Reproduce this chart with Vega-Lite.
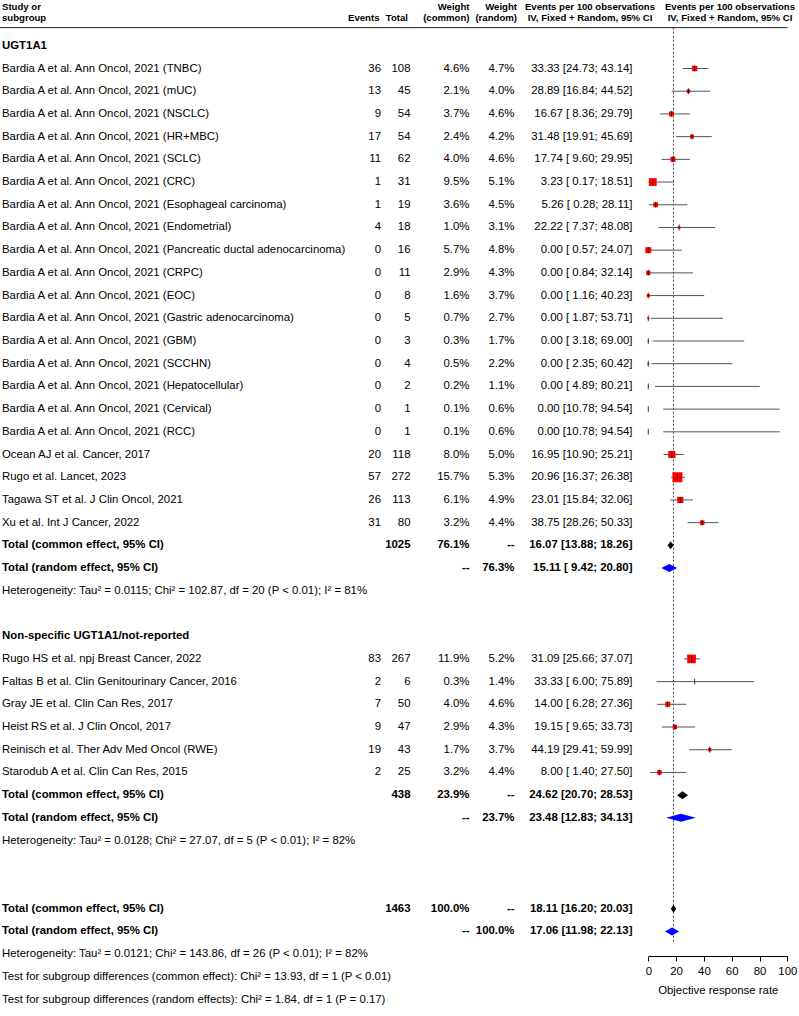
{
  "$schema": "https://vega.github.io/schema/vega-lite/v6.json",
  "width": 799,
  "height": 956,
  "autosize": {"type": "none"},
  "padding": {"left": 0, "top": 0, "right": 0, "bottom": 60},
  "background": "white",
  "config": {
    "view": {"stroke": null},
    "text": {"font": "Liberation Sans", "fontSize": 11.4, "color": "black", "baseline": "middle"},
    "axis": {"labelFont": "Liberation Sans", "titleFont": "Liberation Sans"}
  },
  "datasets": {
    "studies": [
      {"row": 1, "label": "Bardia A et al. Ann Oncol, 2021 (TNBC)", "events": "36", "total": "108", "wc": "4.6%", "wr": "4.7%", "ci": "33.33 [24.73; 43.14]", "est": 33.33, "lower": 24.73, "upper": 43.14, "w": 4.6},
      {"row": 2, "label": "Bardia A et al. Ann Oncol, 2021 (mUC)", "events": "13", "total": "45", "wc": "2.1%", "wr": "4.0%", "ci": "28.89 [16.84; 44.52]", "est": 28.89, "lower": 16.84, "upper": 44.52, "w": 2.1},
      {"row": 3, "label": "Bardia A et al. Ann Oncol, 2021 (NSCLC)", "events": "9", "total": "54", "wc": "3.7%", "wr": "4.6%", "ci": "16.67 [ 8.36; 29.79]", "est": 16.67, "lower": 8.36, "upper": 29.79, "w": 3.7},
      {"row": 4, "label": "Bardia A et al. Ann Oncol, 2021 (HR+MBC)", "events": "17", "total": "54", "wc": "2.4%", "wr": "4.2%", "ci": "31.48 [19.91; 45.69]", "est": 31.48, "lower": 19.91, "upper": 45.69, "w": 2.4},
      {"row": 5, "label": "Bardia A et al. Ann Oncol, 2021 (SCLC)", "events": "11", "total": "62", "wc": "4.0%", "wr": "4.6%", "ci": "17.74 [ 9.60; 29.95]", "est": 17.74, "lower": 9.6, "upper": 29.95, "w": 4.0},
      {"row": 6, "label": "Bardia A et al. Ann Oncol, 2021 (CRC)", "events": "1", "total": "31", "wc": "9.5%", "wr": "5.1%", "ci": "3.23 [ 0.17; 18.51]", "est": 3.23, "lower": 0.17, "upper": 18.51, "w": 9.5},
      {"row": 7, "label": "Bardia A et al. Ann Oncol, 2021 (Esophageal carcinoma)", "events": "1", "total": "19", "wc": "3.6%", "wr": "4.5%", "ci": "5.26 [ 0.28; 28.11]", "est": 5.26, "lower": 0.28, "upper": 28.11, "w": 3.6},
      {"row": 8, "label": "Bardia A et al. Ann Oncol, 2021 (Endometrial)", "events": "4", "total": "18", "wc": "1.0%", "wr": "3.1%", "ci": "22.22 [ 7.37; 48.08]", "est": 22.22, "lower": 7.37, "upper": 48.08, "w": 1.0},
      {"row": 9, "label": "Bardia A et al. Ann Oncol, 2021 (Pancreatic ductal adenocarcinoma)", "events": "0", "total": "16", "wc": "5.7%", "wr": "4.8%", "ci": "0.00 [ 0.57; 24.07]", "est": 0, "lower": 0.57, "upper": 24.07, "w": 5.7},
      {"row": 10, "label": "Bardia A et al. Ann Oncol, 2021 (CRPC)", "events": "0", "total": "11", "wc": "2.9%", "wr": "4.3%", "ci": "0.00 [ 0.84; 32.14]", "est": 0, "lower": 0.84, "upper": 32.14, "w": 2.9},
      {"row": 11, "label": "Bardia A et al. Ann Oncol, 2021 (EOC)", "events": "0", "total": "8", "wc": "1.6%", "wr": "3.7%", "ci": "0.00 [ 1.16; 40.23]", "est": 0, "lower": 1.16, "upper": 40.23, "w": 1.6},
      {"row": 12, "label": "Bardia A et al. Ann Oncol, 2021 (Gastric adenocarcinoma)", "events": "0", "total": "5", "wc": "0.7%", "wr": "2.7%", "ci": "0.00 [ 1.87; 53.71]", "est": 0, "lower": 1.87, "upper": 53.71, "w": 0.7},
      {"row": 13, "label": "Bardia A et al. Ann Oncol, 2021 (GBM)", "events": "0", "total": "3", "wc": "0.3%", "wr": "1.7%", "ci": "0.00 [ 3.18; 69.00]", "est": 0, "lower": 3.18, "upper": 69.0, "w": 0.3},
      {"row": 14, "label": "Bardia A et al. Ann Oncol, 2021 (SCCHN)", "events": "0", "total": "4", "wc": "0.5%", "wr": "2.2%", "ci": "0.00 [ 2.35; 60.42]", "est": 0, "lower": 2.35, "upper": 60.42, "w": 0.5},
      {"row": 15, "label": "Bardia A et al. Ann Oncol, 2021 (Hepatocellular)", "events": "0", "total": "2", "wc": "0.2%", "wr": "1.1%", "ci": "0.00 [ 4.89; 80.21]", "est": 0, "lower": 4.89, "upper": 80.21, "w": 0.2},
      {"row": 16, "label": "Bardia A et al. Ann Oncol, 2021 (Cervical)", "events": "0", "total": "1", "wc": "0.1%", "wr": "0.6%", "ci": "0.00 [10.78; 94.54]", "est": 0, "lower": 10.78, "upper": 94.54, "w": 0.1},
      {"row": 17, "label": "Bardia A et al. Ann Oncol, 2021 (RCC)", "events": "0", "total": "1", "wc": "0.1%", "wr": "0.6%", "ci": "0.00 [10.78; 94.54]", "est": 0, "lower": 10.78, "upper": 94.54, "w": 0.1},
      {"row": 18, "label": "Ocean AJ et al. Cancer, 2017", "events": "20", "total": "118", "wc": "8.0%", "wr": "5.0%", "ci": "16.95 [10.90; 25.21]", "est": 16.95, "lower": 10.9, "upper": 25.21, "w": 8.0},
      {"row": 19, "label": "Rugo et al. Lancet, 2023", "events": "57", "total": "272", "wc": "15.7%", "wr": "5.3%", "ci": "20.96 [16.37; 26.38]", "est": 20.96, "lower": 16.37, "upper": 26.38, "w": 15.7},
      {"row": 20, "label": "Tagawa ST et al. J Clin Oncol, 2021", "events": "26", "total": "113", "wc": "6.1%", "wr": "4.9%", "ci": "23.01 [15.84; 32.06]", "est": 23.01, "lower": 15.84, "upper": 32.06, "w": 6.1},
      {"row": 21, "label": "Xu et al. Int J Cancer, 2022", "events": "31", "total": "80", "wc": "3.2%", "wr": "4.4%", "ci": "38.75 [28.26; 50.33]", "est": 38.75, "lower": 28.26, "upper": 50.33, "w": 3.2},
      {"row": 27, "label": "Rugo HS et al. npj Breast Cancer, 2022", "events": "83", "total": "267", "wc": "11.9%", "wr": "5.2%", "ci": "31.09 [25.66; 37.07]", "est": 31.09, "lower": 25.66, "upper": 37.07, "w": 11.9},
      {"row": 28, "label": "Faltas B et al. Clin Genitourinary Cancer, 2016", "events": "2", "total": "6", "wc": "0.3%", "wr": "1.4%", "ci": "33.33 [ 6.00; 75.89]", "est": 33.33, "lower": 6.0, "upper": 75.89, "w": 0.3},
      {"row": 29, "label": "Gray JE et al. Clin Can Res, 2017", "events": "7", "total": "50", "wc": "4.0%", "wr": "4.6%", "ci": "14.00 [ 6.28; 27.36]", "est": 14.0, "lower": 6.28, "upper": 27.36, "w": 4.0},
      {"row": 30, "label": "Heist RS et al. J Clin Oncol, 2017", "events": "9", "total": "47", "wc": "2.9%", "wr": "4.3%", "ci": "19.15 [ 9.65; 33.73]", "est": 19.15, "lower": 9.65, "upper": 33.73, "w": 2.9},
      {"row": 31, "label": "Reinisch et al. Ther Adv Med Oncol (RWE)", "events": "19", "total": "43", "wc": "1.7%", "wr": "3.7%", "ci": "44.19 [29.41; 59.99]", "est": 44.19, "lower": 29.41, "upper": 59.99, "w": 1.7},
      {"row": 32, "label": "Starodub A et al. Clin Can Res, 2015", "events": "2", "total": "25", "wc": "3.2%", "wr": "4.4%", "ci": "8.00 [ 1.40; 27.50]", "est": 8.0, "lower": 1.4, "upper": 27.5, "w": 3.2}
    ],
    "summary": [
      {"row": 22, "label": "Total (common effect, 95% CI)", "type": "common", "total": "1025", "wc": "76.1%", "wr": "--", "ci": "16.07 [13.88; 18.26]", "est": 16.07, "lower": 13.88, "upper": 18.26},
      {"row": 23, "label": "Total (random effect, 95% CI)", "type": "random", "total": "", "wc": "--", "wr": "76.3%", "ci": "15.11 [ 9.42; 20.80]", "est": 15.11, "lower": 9.42, "upper": 20.8},
      {"row": 33, "label": "Total (common effect, 95% CI)", "type": "common", "total": "438", "wc": "23.9%", "wr": "--", "ci": "24.62 [20.70; 28.53]", "est": 24.62, "lower": 20.7, "upper": 28.53},
      {"row": 34, "label": "Total (random effect, 95% CI)", "type": "random", "total": "", "wc": "--", "wr": "23.7%", "ci": "23.48 [12.83; 34.13]", "est": 23.48, "lower": 12.83, "upper": 34.13},
      {"row": 38, "label": "Total (common effect, 95% CI)", "type": "common", "total": "1463", "wc": "100.0%", "wr": "--", "ci": "18.11 [16.20; 20.03]", "est": 18.11, "lower": 16.2, "upper": 20.03},
      {"row": 39, "label": "Total (random effect, 95% CI)", "type": "random", "total": "", "wc": "--", "wr": "100.0%", "ci": "17.06 [11.98; 22.13]", "est": 17.06, "lower": 11.98, "upper": 22.13}
    ],
    "notes": [
      {"row": 0, "text": "UGT1A1", "bold": true},
      {"row": 24, "text": "Heterogeneity: Tau² = 0.0115; Chi² = 102.87, df = 20 (P < 0.01); I² = 81%", "bold": false},
      {"row": 26, "text": "Non-specific UGT1A1/not-reported", "bold": true},
      {"row": 35, "text": "Heterogeneity: Tau² = 0.0128; Chi² = 27.07, df = 5 (P < 0.01); I² = 82%", "bold": false},
      {"row": 40, "text": "Heterogeneity: Tau² = 0.0121; Chi² = 143.86, df = 26 (P < 0.01); I² = 82%", "bold": false},
      {"row": 41, "text": "Test for subgroup differences (common effect): Chi² = 13.93, df = 1 (P < 0.01)", "bold": false},
      {"row": 42, "text": "Test for subgroup differences (random effects): Chi² = 1.84, df = 1 (P = 0.17)", "bold": false}
    ],
    "headers": [
      {"row": -1, "key": "study", "text": "Study or\nsubgroup"},
      {"row": -1, "key": "events", "text": "\nEvents"},
      {"row": -1, "key": "total", "text": "\nTotal"},
      {"row": -1, "key": "wc", "text": "Weight\n(common)"},
      {"row": -1, "key": "wr", "text": "Weight\n(random)"},
      {"row": -1, "key": "ci", "text": "Events per 100 observations\nIV, Fixed + Random, 95% CI"},
      {"row": -1, "key": "plot", "text": "Events per 100 observations\nIV, Fixed + Random, 95% CI"}
    ]
  },
  "layer": [
    {
      "data": {"name": "headers"},
      "transform": [{"filter": "datum.key === 'study'"}],
      "mark": {"type": "rule", "color": "#222", "strokeWidth": 1},
      "encoding": {
        "x": {"value": 0},
        "x2": {"value": 787.5},
        "y": {"datum": -0.8, "type": "quantitative", "scale": {"domain": [0, 42], "range": [45.8, 999.5], "nice": false, "zero": false}, "axis": null}
      }
    },
    {
      "data": {"name": "summary"},
      "transform": [{"filter": "datum.row === 38"}],
      "mark": {"type": "rule", "color": "#444", "strokeWidth": 1, "strokeDash": [2, 2]},
      "encoding": {
        "x": {"field": "est", "type": "quantitative"},
        "y": {"datum": -0.8, "type": "quantitative"},
        "y2": {"datum": 39.5}
      }
    },
    {
      "data": {"name": "studies"},
      "mark": {"type": "rule", "color": "#555", "strokeWidth": 1},
      "encoding": {
        "x": {"field": "lower", "type": "quantitative",
          "scale": {"domain": [0, 100], "range": [648.3, 787.3], "nice": false, "zero": false},
          "axis": {"values": [0, 20, 40, 60, 80, 100], "title": "Objective response rate", "grid": false,
            "domainColor": "black", "tickColor": "black", "labelColor": "black", "titleColor": "black",
            "labelFontSize": 11.4, "titleFontSize": 11.4, "titleFontWeight": "normal", "tickSize": 5,
            "labelPadding": 4, "titlePadding": 8, "domainWidth": 1, "tickWidth": 1, "labelFlush": false}},
        "x2": {"field": "upper"},
        "y": {"field": "row", "type": "quantitative"}
      }
    },
    {
      "data": {"name": "studies"},
      "mark": {"type": "point", "shape": "square", "filled": true, "color": "#FF0000", "opacity": 1},
      "encoding": {
        "x": {"field": "est", "type": "quantitative"},
        "y": {"field": "row", "type": "quantitative"},
        "size": {"field": "w", "type": "quantitative", "scale": {"domain": [0, 15.7], "range": [0, 100], "zero": true}, "legend": null}
      }
    },
    {
      "data": {"name": "studies"},
      "mark": {"type": "tick", "orient": "vertical", "color": "black", "size": 6, "thickness": 1},
      "encoding": {
        "x": {"field": "est", "type": "quantitative"},
        "y": {"field": "row", "type": "quantitative"}
      }
    },
    {
      "data": {"name": "summary"},
      "transform": [{"filter": "datum.type === 'common'"}, {"fold": ["lower", "est", "upper"], "as": ["k", "v"]}],
      "mark": {"type": "area", "color": "black", "yOffset": {"signal": "datum.k == 'est' ? -4 : 0"}, "y2Offset": {"signal": "datum.k == 'est' ? 4 : 0"}},
      "encoding": {
        "x": {"field": "v", "type": "quantitative"},
        "y": {"field": "row", "type": "quantitative"},
        "y2": {"field": "row"},
        "detail": {"field": "row", "type": "nominal"}
      }
    },
    {
      "data": {"name": "summary"},
      "transform": [{"filter": "datum.type === 'random'"}, {"fold": ["lower", "est", "upper"], "as": ["k", "v"]}],
      "mark": {"type": "area", "color": "#0000FF", "yOffset": {"signal": "datum.k == 'est' ? -4 : 0"}, "y2Offset": {"signal": "datum.k == 'est' ? 4 : 0"}},
      "encoding": {
        "x": {"field": "v", "type": "quantitative"},
        "y": {"field": "row", "type": "quantitative"},
        "y2": {"field": "row"},
        "detail": {"field": "row", "type": "nominal"}
      }
    },
    {
      "data": {"name": "studies"},
      "mark": {"type": "text", "align": "left"},
      "encoding": {"x": {"value": 2}, "y": {"field": "row", "type": "quantitative"}, "text": {"field": "label", "type": "nominal"}}
    },
    {
      "data": {"name": "studies"},
      "mark": {"type": "text", "align": "right"},
      "encoding": {"x": {"value": 381}, "y": {"field": "row", "type": "quantitative"}, "text": {"field": "events", "type": "nominal"}}
    },
    {
      "data": {"name": "studies"},
      "mark": {"type": "text", "align": "right"},
      "encoding": {"x": {"value": 410.5}, "y": {"field": "row", "type": "quantitative"}, "text": {"field": "total", "type": "nominal"}}
    },
    {
      "data": {"name": "studies"},
      "mark": {"type": "text", "align": "right"},
      "encoding": {"x": {"value": 469.5}, "y": {"field": "row", "type": "quantitative"}, "text": {"field": "wc", "type": "nominal"}}
    },
    {
      "data": {"name": "studies"},
      "mark": {"type": "text", "align": "right"},
      "encoding": {"x": {"value": 514.5}, "y": {"field": "row", "type": "quantitative"}, "text": {"field": "wr", "type": "nominal"}}
    },
    {
      "data": {"name": "studies"},
      "mark": {"type": "text", "align": "right"},
      "encoding": {"x": {"value": 632.5}, "y": {"field": "row", "type": "quantitative"}, "text": {"field": "ci", "type": "nominal"}}
    },
    {
      "data": {"name": "summary"},
      "mark": {"type": "text", "align": "left", "fontWeight": "bold"},
      "encoding": {"x": {"value": 2}, "y": {"field": "row", "type": "quantitative"}, "text": {"field": "label", "type": "nominal"}}
    },
    {
      "data": {"name": "summary"},
      "mark": {"type": "text", "align": "right", "fontWeight": "bold"},
      "encoding": {"x": {"value": 410.5}, "y": {"field": "row", "type": "quantitative"}, "text": {"field": "total", "type": "nominal"}}
    },
    {
      "data": {"name": "summary"},
      "mark": {"type": "text", "align": "right", "fontWeight": "bold"},
      "encoding": {"x": {"value": 469.5}, "y": {"field": "row", "type": "quantitative"}, "text": {"field": "wc", "type": "nominal"}}
    },
    {
      "data": {"name": "summary"},
      "mark": {"type": "text", "align": "right", "fontWeight": "bold"},
      "encoding": {"x": {"value": 514.5}, "y": {"field": "row", "type": "quantitative"}, "text": {"field": "wr", "type": "nominal"}}
    },
    {
      "data": {"name": "summary"},
      "mark": {"type": "text", "align": "right", "fontWeight": "bold"},
      "encoding": {"x": {"value": 632.5}, "y": {"field": "row", "type": "quantitative"}, "text": {"field": "ci", "type": "nominal"}}
    },
    {
      "data": {"name": "notes"},
      "transform": [{"filter": "datum.bold"}],
      "mark": {"type": "text", "align": "left", "fontWeight": "bold"},
      "encoding": {"x": {"value": 2}, "y": {"field": "row", "type": "quantitative"}, "text": {"field": "text", "type": "nominal"}}
    },
    {
      "data": {"name": "notes"},
      "transform": [{"filter": "!datum.bold"}],
      "mark": {"type": "text", "align": "left"},
      "encoding": {"x": {"value": 2}, "y": {"field": "row", "type": "quantitative"}, "text": {"field": "text", "type": "nominal"}}
    },
    {
      "data": {"name": "headers"},
      "transform": [{"filter": "datum.key === 'study'"}],
      "mark": {"type": "text", "align": "left", "fontWeight": "bold", "fontSize": 9.6, "baseline": "bottom", "lineBreak": "\n", "lineHeight": 11, "dy": -11.5},
      "encoding": {"x": {"value": 2}, "y": {"field": "row", "type": "quantitative"}, "text": {"field": "text", "type": "nominal"}}
    },
    {
      "data": {"name": "headers"},
      "transform": [{"filter": "datum.key === 'events'"}],
      "mark": {"type": "text", "align": "right", "fontWeight": "bold", "fontSize": 9.6, "baseline": "bottom", "lineBreak": "\n", "lineHeight": 11, "dy": -11.5},
      "encoding": {"x": {"value": 379.5}, "y": {"field": "row", "type": "quantitative"}, "text": {"field": "text", "type": "nominal"}}
    },
    {
      "data": {"name": "headers"},
      "transform": [{"filter": "datum.key === 'total'"}],
      "mark": {"type": "text", "align": "right", "fontWeight": "bold", "fontSize": 9.6, "baseline": "bottom", "lineBreak": "\n", "lineHeight": 11, "dy": -11.5},
      "encoding": {"x": {"value": 408}, "y": {"field": "row", "type": "quantitative"}, "text": {"field": "text", "type": "nominal"}}
    },
    {
      "data": {"name": "headers"},
      "transform": [{"filter": "datum.key === 'wc'"}],
      "mark": {"type": "text", "align": "right", "fontWeight": "bold", "fontSize": 9.6, "baseline": "bottom", "lineBreak": "\n", "lineHeight": 11, "dy": -11.5},
      "encoding": {"x": {"value": 469.5}, "y": {"field": "row", "type": "quantitative"}, "text": {"field": "text", "type": "nominal"}}
    },
    {
      "data": {"name": "headers"},
      "transform": [{"filter": "datum.key === 'wr'"}],
      "mark": {"type": "text", "align": "right", "fontWeight": "bold", "fontSize": 9.6, "baseline": "bottom", "lineBreak": "\n", "lineHeight": 11, "dy": -11.5},
      "encoding": {"x": {"value": 517}, "y": {"field": "row", "type": "quantitative"}, "text": {"field": "text", "type": "nominal"}}
    },
    {
      "data": {"name": "headers"},
      "transform": [{"filter": "datum.key === 'ci'"}],
      "mark": {"type": "text", "align": "center", "fontWeight": "bold", "fontSize": 9.6, "baseline": "bottom", "lineBreak": "\n", "lineHeight": 11, "dy": -11.5},
      "encoding": {"x": {"value": 590}, "y": {"field": "row", "type": "quantitative"}, "text": {"field": "text", "type": "nominal"}}
    },
    {
      "data": {"name": "headers"},
      "transform": [{"filter": "datum.key === 'plot'"}],
      "mark": {"type": "text", "align": "center", "fontWeight": "bold", "fontSize": 9.6, "baseline": "bottom", "lineBreak": "\n", "lineHeight": 11, "dy": -11.5},
      "encoding": {"x": {"value": 730}, "y": {"field": "row", "type": "quantitative"}, "text": {"field": "text", "type": "nominal"}}
    }
  ]
}
